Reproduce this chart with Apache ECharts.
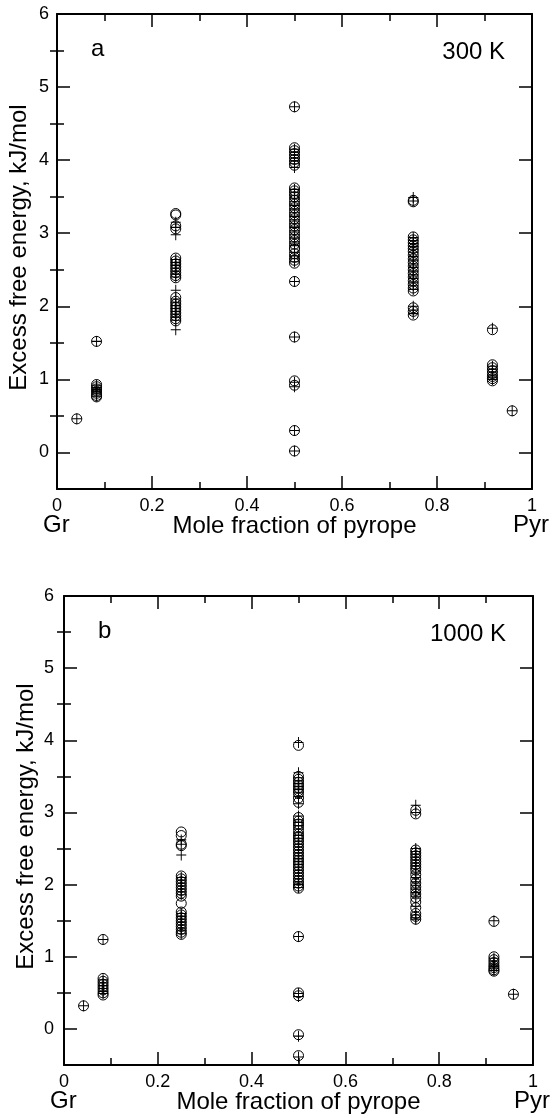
<!DOCTYPE html>
<html><head><meta charset="utf-8">
<script src="https://cdn.jsdelivr.net/npm/echarts@6/dist/echarts.min.js"></script>
<style>html,body{margin:0;padding:0;background:#fff}#c{width:552px;height:1118px}</style>
</head><body><div id="c"></div>
<script>
// Mole fraction of pyrope for each composition column
const compositions = [0.0417, 0.0833, 0.25, 0.5, 0.75, 0.9167, 0.9583];
const xTicks = [0, 0.2, 0.4, 0.6, 0.8, 1];
const yMajorTicks = [0, 1, 2, 3, 4, 5, 6];
const yMinorTicks = [0.5, 1.5, 2.5, 3.5, 4.5, 5.5];

// Panel a (300 K): circles and pluses, one list per composition column
const circlesA = [
  [0.46],
  [1.52, 0.93, 0.90, 0.87, 0.84, 0.81, 0.78, 0.76],
  [3.27, 3.25, 3.10, 3.06, 2.66, 2.62, 2.58, 2.54, 2.50, 2.46, 2.42, 2.39, 2.12, 2.07, 2.03, 1.99, 1.95, 1.91, 1.87, 1.83, 1.80],
  [4.73, 4.17, 4.13, 4.09, 4.05, 4.01, 3.97, 3.93, 3.62, 3.58, 3.54, 3.50, 3.45, 3.40, 3.35, 3.30, 3.25, 3.20, 3.15, 3.10, 3.05, 3.00, 2.95, 2.90, 2.85, 2.80, 2.78, 2.72, 2.67, 2.63, 2.59, 2.34, 1.58, 0.98, 0.92, 0.30, 0.02],
  [3.45, 3.43, 2.95, 2.91, 2.87, 2.83, 2.79, 2.75, 2.70, 2.65, 2.60, 2.55, 2.50, 2.45, 2.40, 2.35, 2.30, 2.25, 2.21, 1.98, 1.93, 1.88],
  [1.68, 1.20, 1.16, 1.12, 1.08, 1.04, 1.01, 0.98],
  [0.57]
];
const plusesA = [
  [0.46],
  [1.52, 0.92, 0.89, 0.86, 0.83, 0.80, 0.77],
  [3.15, 3.08, 2.98, 2.64, 2.60, 2.56, 2.52, 2.48, 2.44, 2.40, 2.22, 2.10, 2.05, 2.01, 1.97, 1.93, 1.89, 1.85, 1.81, 1.68],
  [4.73, 4.15, 4.11, 4.07, 4.03, 3.99, 3.95, 3.90, 3.60, 3.56, 3.52, 3.48, 3.43, 3.38, 3.33, 3.28, 3.23, 3.18, 3.13, 3.08, 3.03, 2.98, 2.93, 2.88, 2.83, 2.74, 2.69, 2.65, 2.61, 2.34, 1.58, 0.96, 0.90, 0.30, 0.02],
  [3.49, 3.44, 2.94, 2.90, 2.86, 2.82, 2.78, 2.74, 2.68, 2.63, 2.58, 2.53, 2.48, 2.43, 2.38, 2.33, 2.28, 2.23, 2.00, 1.95, 1.90],
  [1.70, 1.18, 1.14, 1.10, 1.06, 1.03, 1.00],
  [0.57]
];

// Panel b (1000 K)
const circlesB = [
  [0.32],
  [1.24, 0.70, 0.66, 0.62, 0.58, 0.54, 0.50, 0.47],
  [2.73, 2.68, 2.56, 2.54, 2.12, 2.08, 2.04, 2.00, 1.96, 1.92, 1.88, 1.84, 1.74, 1.62, 1.58, 1.54, 1.50, 1.46, 1.42, 1.38, 1.34, 1.31],
  [3.93, 3.50, 3.46, 3.42, 3.38, 3.34, 3.30, 3.26, 3.20, 3.14, 2.93, 2.88, 2.84, 2.80, 2.75, 2.70, 2.66, 2.62, 2.58, 2.54, 2.50, 2.46, 2.42, 2.38, 2.34, 2.30, 2.26, 2.22, 2.18, 2.14, 2.10, 2.06, 2.02, 1.98, 1.95, 1.28, 0.50, 0.46, -0.08, -0.37],
  [3.03, 2.98, 2.48, 2.44, 2.40, 2.36, 2.32, 2.28, 2.24, 2.20, 2.14, 2.08, 2.02, 1.97, 1.92, 1.87, 1.82, 1.76, 1.68, 1.60, 1.56, 1.52],
  [1.49, 1.00, 0.96, 0.92, 0.88, 0.85, 0.82, 0.80],
  [0.48]
];
const plusesB = [
  [0.32],
  [1.24, 0.68, 0.64, 0.60, 0.56, 0.52, 0.49],
  [2.62, 2.56, 2.41, 2.10, 2.06, 2.02, 1.98, 1.94, 1.90, 1.86, 1.60, 1.56, 1.52, 1.48, 1.44, 1.40, 1.36, 1.32],
  [3.97, 3.55, 3.48, 3.44, 3.40, 3.36, 3.32, 3.28, 3.22, 3.12, 2.95, 2.90, 2.86, 2.82, 2.77, 2.72, 2.68, 2.64, 2.60, 2.56, 2.52, 2.48, 2.44, 2.40, 2.36, 2.32, 2.28, 2.24, 2.20, 2.16, 2.12, 2.08, 2.04, 2.00, 1.96, 1.28, 0.49, 0.45, -0.10, -0.39],
  [3.10, 3.00, 2.50, 2.46, 2.42, 2.38, 2.34, 2.30, 2.26, 2.22, 2.16, 2.10, 2.04, 1.99, 1.94, 1.89, 1.84, 1.70, 1.58, 1.54, 1.52],
  [1.50, 0.98, 0.94, 0.90, 0.87, 0.84, 0.81],
  [0.48]
];

const panelLetters = ['a', 'b'];
const temperatures = ['300 K', '1000 K'];
const xName = 'Mole fraction of pyrope';
const yName = 'Excess free energy, kJ/mol';
const endLabels = ['Gr', 'Pyr'];

function toPoints(cols) {
  const out = [];
  cols.forEach((vals, i) => vals.forEach(v => out.push([compositions[i], v])));
  return out;
}

const FONT = '"Liberation Sans", Arial, Helvetica, sans-serif';
const BLACK = '#000';
const tickStyle = { color: BLACK, width: 1.5 };

const grids = [
  { left: 57, top: 14, width: 475, height: 475 },
  { left: 64, top: 596, width: 469, height: 469 }
];
const yLabelMargin = [8, 10];

const xAxes = [], yAxes = [], series = [];
grids.forEach((g, gi) => {
  const xb = {
    gridIndex: gi, type: 'value', min: xTicks[0], max: xTicks[xTicks.length - 1], interval: 0.2,
    splitLine: { show: false }, minorSplitLine: { show: false },
    axisLine: { show: true, onZero: false, lineStyle: { color: BLACK, width: 2 } },
    axisTick: { show: true, inside: true, length: 13, lineStyle: tickStyle },
    minorTick: { show: true, splitNumber: 2, length: 7, lineStyle: tickStyle }
  };
  xAxes.push(Object.assign({}, xb, { position: 'bottom',
    axisLabel: { show: true, fontSize: 18, color: BLACK, fontFamily: FONT, margin: 8 } }));
  xAxes.push(Object.assign({}, xb, { position: 'top', axisLabel: { show: false } }));

  const yb = { gridIndex: gi, type: 'value', min: -0.5, max: 6, interval: 0.5, splitLine: { show: false } };
  ['left', 'right'].forEach(pos => {
    yAxes.push(Object.assign({}, yb, { position: pos,
      axisLine: { show: true, onZero: false, lineStyle: { color: BLACK, width: 2 } },
      axisTick: { show: true, inside: true, length: 13, customValues: yMajorTicks, lineStyle: tickStyle },
      axisLabel: pos === 'left'
        ? { show: true, customValues: yMajorTicks, fontSize: 18, color: BLACK, fontFamily: FONT, margin: yLabelMargin[gi] }
        : { show: false } }));
    yAxes.push(Object.assign({}, yb, { position: pos,
      axisLine: { show: false },
      axisTick: { show: true, inside: true, length: 7, customValues: yMinorTicks, lineStyle: tickStyle },
      axisLabel: { show: false } }));
  });
});

const panels = [[circlesA, plusesA], [circlesB, plusesB]];
panels.forEach((p, gi) => {
  series.push({
    type: 'scatter', xAxisIndex: gi * 2, yAxisIndex: gi * 4, data: toPoints(p[0]),
    symbol: 'circle', symbolSize: 10, silent: true,
    itemStyle: { color: 'rgba(0,0,0,0)', borderColor: BLACK, borderWidth: 1, opacity: 1 }
  });
  series.push({
    type: 'scatter', xAxisIndex: gi * 2, yAxisIndex: gi * 4, data: toPoints(p[1]),
    symbol: 'path://M5,0L5,10M0,5L10,5', symbolSize: [10, 11], silent: true,
    itemStyle: { color: 'rgba(0,0,0,0)', borderColor: BLACK, borderWidth: 1, opacity: 1 }
  });
});

function txt(text, x, y, align, size, rot) {
  const el = { type: 'text', x: x, y: y, silent: true,
    style: { text: text, font: size + 'px ' + FONT, fill: BLACK,
      align: align, verticalAlign: 'middle', textAlign: align, textVerticalAlign: 'middle' } };
  if (rot) el.rotation = rot;
  return el;
}
const graphics = [];
grids.forEach((g, gi) => {
  const right = g.left + g.width, bottom = g.top + g.height;
  graphics.push(txt(panelLetters[gi], g.left + 34, g.top + 35, 'left', 24));
  graphics.push(txt(temperatures[gi], right - 27, g.top + 38, 'right', 24));
  graphics.push(txt(endLabels[0], g.left - 14, bottom + 36, 'left', 24));
  graphics.push(txt(endLabels[1], right - 19, bottom + 36, 'left', 24));
  graphics.push(txt(xName, g.left + g.width / 2, bottom + 37, 'center', 24));
  graphics.push(txt(yName, g.left - 38, g.top + g.height / 2 - 4, 'center', 24, Math.PI / 2));
});

const chart = echarts.init(document.getElementById('c'), null, { renderer: 'canvas' });
chart.setOption({
  animation: false,
  backgroundColor: '#fff',
  grid: grids.map(g => Object.assign({ containLabel: false }, g)),
  xAxis: xAxes,
  yAxis: yAxes,
  series: series,
  graphic: { elements: graphics }
});
</script></body></html>
